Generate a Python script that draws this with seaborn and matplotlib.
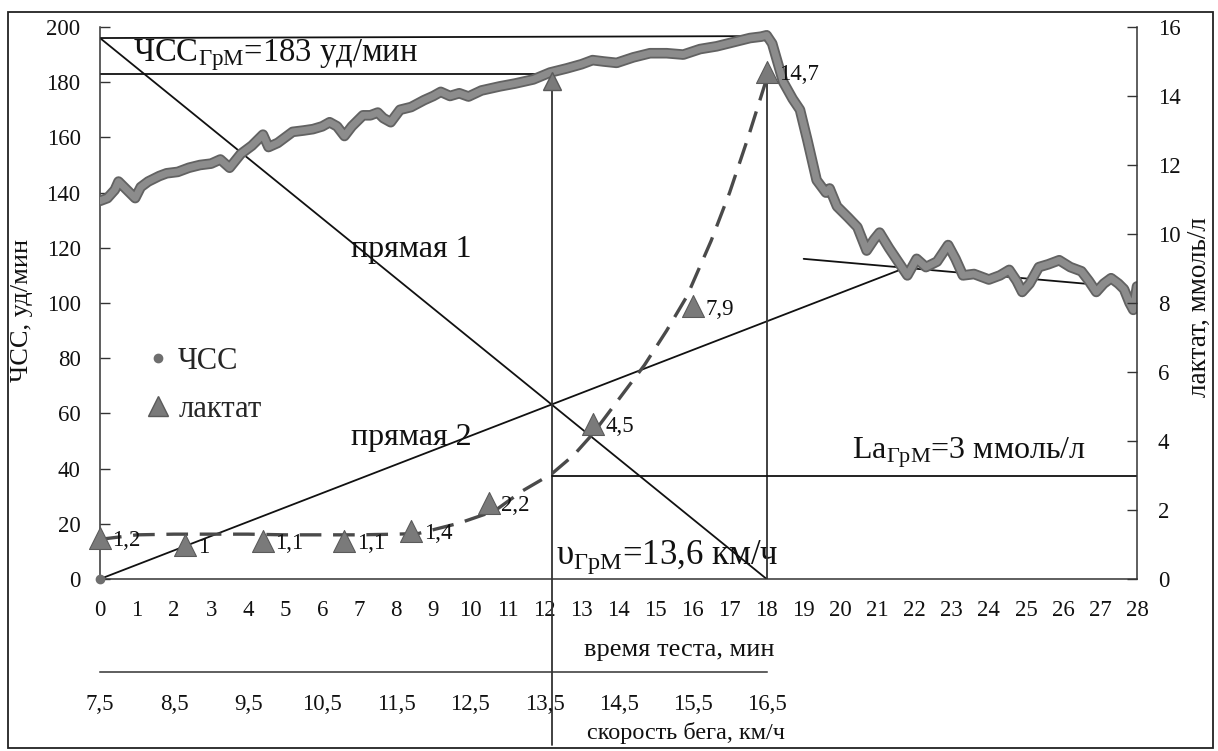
import matplotlib
matplotlib.use("Agg")
import matplotlib.pyplot as plt
import matplotlib.patheffects as pe
from matplotlib.lines import Line2D
from matplotlib.patches import Rectangle
import seaborn as sns
import pandas as pd

# heart rate during the test and recovery (min, beats/min)
hr_time = [0.0, 0.2, 0.4, 0.5, 0.65, 0.8, 0.95, 1.1, 1.3, 1.6, 1.8, 2.1, 2.4, 2.7,
           3.0, 3.25, 3.5, 3.8, 4.1, 4.4, 4.55, 4.8, 5.2, 5.5, 5.75, 6.0, 6.2, 6.4,
           6.6, 6.8, 7.1, 7.3, 7.5, 7.65, 7.85, 8.1, 8.4, 8.75, 9.0, 9.2, 9.45, 9.7,
           9.95, 10.3, 10.8, 11.2, 11.7, 12.15, 12.6, 13.0, 13.3, 13.6, 13.95, 14.4,
           14.85, 15.3, 15.75, 16.2, 16.65, 17.1, 17.55, 17.85, 18.0, 18.15, 18.45,
           18.7, 18.9, 19.1, 19.35, 19.6, 19.7, 19.9, 20.2, 20.45, 20.7, 20.9, 21.05,
           21.3, 21.55, 21.8, 22.05, 22.3, 22.6, 22.9, 23.1, 23.3, 23.6, 24.0, 24.3,
           24.55, 24.75, 24.9, 25.1, 25.35, 25.6, 25.9, 26.2, 26.5, 26.7, 26.9, 27.1,
           27.3, 27.5, 27.65, 27.8, 27.9, 28.0]
hr_value = [137, 138, 141, 144, 142, 140, 138, 142, 144, 146, 147, 147.5, 149, 150,
            150.5, 152, 149, 154, 157, 161, 156.5, 158, 162, 162.5, 163, 164, 165.5, 164,
            160.5, 164, 168, 168, 169, 167, 165.5, 170, 171, 173.5, 175, 176.5, 175, 176,
            174.8, 177, 178.5, 179.5, 181, 183.5, 185, 186.5, 188, 187.5, 187, 189,
            190.5, 190.5, 190, 192, 193, 194.5, 196, 196.5, 197, 194, 180,
            174, 170, 159, 144.5, 140, 141.5, 135, 131, 127.5, 119, 123, 125.5,
            120, 115, 110, 116, 113, 115, 121, 116, 110, 110.5, 108.5, 110,
            112, 108, 104, 107, 113, 114, 115.5, 113, 111.5, 108, 104, 107,
            109, 107, 105, 100, 97.5, 106]

# blood lactate samples (min, mmol/l)
la_time = [0.0, 2.3, 4.4, 6.6, 8.4, 10.5, 13.3, 16.0, 18.0]
la_value = [1.2, 1.0, 1.1, 1.1, 1.4, 2.2, 4.5, 7.9, 14.7]
la_labels = ["1,2", "1", "1,1", "1,1", "1,4", "2,2", "4,5", "7,9", "14,7"]

# lactate trend curve (min, mmol/l)
trend_time = [0, 1, 2, 3, 4, 5, 6, 7, 8, 8.6, 9.7, 10.65, 11.4, 12.2, 12.8, 13.3,
              14.0, 14.7, 15.3, 15.85, 16.5, 17.0, 17.5, 18.0]
trend_value = [1.15, 1.28, 1.3, 1.3, 1.3, 1.28, 1.28, 1.28, 1.3, 1.32, 1.62, 1.97,
               2.55, 3.05, 3.6, 4.2, 5.2, 6.2, 7.2, 8.2, 9.8, 11.2, 12.8, 14.5]

# axis ticks
time_ticks = list(range(0, 29))
hr_ticks = list(range(0, 201, 20))
la_ticks = list(range(0, 17, 2))
speed_ticks = [7.5, 8.5, 9.5, 10.5, 11.5, 12.5, 13.5, 14.5, 15.5, 16.5]
speed_labels = ["7,5", "8,5", "9,5", "10,5", "11,5", "12,5", "13,5", "14,5", "15,5", "16,5"]

# threshold construction
hr_peak = 197
hr_start_line1 = 196
hr_threshold = 183
t_threshold = 12.2
t_peak = 18.0
la_threshold = 3
line2_end = (21.6, 112)
recovery_line = ([19.0, 26.6], [116, 107])

sns.set_theme(style="white")
plt.rcParams["font.family"] = ["Liberation Serif", "DejaVu Serif"]
plt.rcParams["mathtext.fontset"] = "custom"
plt.rcParams["mathtext.rm"] = "Liberation Serif"
plt.rcParams["mathtext.it"] = "Liberation Serif:italic"
plt.rcParams["mathtext.bf"] = "Liberation Serif:bold"

W, H = 1218, 751
fig = plt.figure(figsize=(W / 100, H / 100), dpi=100)
fig.patch.set_facecolor("white")

ax = fig.add_axes([100 / W, (H - 579) / H, (1137 - 100) / W, (579 - 27) / H])
ax.set_xlim(0, 28)
ax.set_ylim(0, 200)
ax.patch.set_alpha(0)
ax2 = ax.twinx()
ax2.set_ylim(0, 16)

ink = "#111111"
lw_thin = 1.3

# construction lines
ax.plot([0, t_peak], [hr_start_line1, 0], color=ink, lw=lw_thin, zorder=2)
ax.plot([0, line2_end[0]], [0, line2_end[1]], color=ink, lw=lw_thin, zorder=2)
ax.plot([0, t_peak - 0.2], [hr_start_line1, hr_peak - 0.3], color=ink, lw=lw_thin, zorder=2)
ax.plot([0, t_threshold], [hr_threshold, hr_threshold], color=ink, lw=lw_thin, zorder=2)
ax.plot(recovery_line[0], recovery_line[1], color=ink, lw=lw_thin, zorder=2)
ax.plot([t_threshold, t_threshold], [-60, hr_threshold - 3], color="#333333",
        lw=lw_thin, zorder=2, clip_on=False)
ax2.plot([t_peak, t_peak], [0, la_value[-1]], color="#333333", lw=lw_thin, zorder=2)
ax2.plot([t_threshold, 28], [la_threshold, la_threshold], color=ink, lw=lw_thin, zorder=2)

# heart rate band
hr_df = pd.DataFrame({"t": hr_time, "hr": hr_value})
sns.lineplot(data=hr_df, x="t", y="hr", ax=ax, color="#8c8c8c", lw=5.0, zorder=4,
             path_effects=[pe.Stroke(linewidth=7.6, foreground="#626262"), pe.Normal()],
             legend=False)
ax.plot([0], [0], marker="o", ms=6, color="#6e6e6e", zorder=5, clip_on=False)
ax.plot([t_threshold], [hr_threshold - 2.5], marker="^", ms=13, color="#7a7a7a",
        mec="#5a5a5a", zorder=6)

# lactate trend and samples
tr_df = pd.DataFrame({"t": trend_time, "la": trend_value})
sns.lineplot(data=tr_df, x="t", y="la", ax=ax2, color="#4a4a4a", lw=2.4,
             dashes=False, legend=False, zorder=3).lines[-1].set_dashes([6.5, 3.5])
la_df = pd.DataFrame({"t": la_time, "la": la_value})
sns.scatterplot(data=la_df, x="t", y="la", ax=ax2, marker="^", s=250, color="#7a7a7a",
                edgecolor="#5a5a5a", linewidth=0.8, zorder=7, clip_on=False, legend=False)
for t, v, lab in zip(la_time, la_value, la_labels):
    ax2.annotate(lab, (t, v), xytext=(9, -2), textcoords="offset points",
                 ha="left", va="center", fontsize=16.5, color=ink, zorder=8)

# annotations
ax.text(0.9, 187.5, r"ЧСС$_{\mathrm{ГрМ}}$=183 уд/мин", fontsize=23.5, color=ink,
        ha="left", va="baseline", zorder=8)
ax.text(8.4, 116.5, "прямая 1", fontsize=23, color=ink, ha="center", va="baseline", zorder=8)
ax.text(8.4, 48.5, "прямая 2", fontsize=23, color=ink, ha="center", va="baseline", zorder=8)
ax.text(12.3, 5.5, r"υ$_{\mathrm{ГрМ}}$=13,6 км/ч", fontsize=25, color=ink,
        ha="left", va="baseline", zorder=8)
ax.text(20.3, 43.5, r"La$_{\mathrm{ГрМ}}$=3 ммоль/л", fontsize=23, color=ink,
        ha="left", va="baseline", zorder=8)

# axes styling
for a in (ax, ax2):
    a.spines["top"].set_visible(False)
    for s in ("left", "right", "bottom"):
        a.spines[s].set_color("#333333")
        a.spines[s].set_linewidth(1.1)
ax.spines["right"].set_visible(False)
ax2.spines["left"].set_visible(False)
ax2.spines["bottom"].set_visible(False)

ax.set_xticks(time_ticks)
ax.set_yticks(hr_ticks)
ax2.set_yticks(la_ticks)
ax.tick_params(axis="both", direction="in", length=7, width=1.0, color="#333333",
               labelsize=16.5, labelcolor=ink, pad=14)
ax.tick_params(axis="x", pad=15)
ax2.tick_params(axis="y", direction="in", length=7, width=1.0, color="#333333",
                labelsize=16.5, labelcolor=ink, pad=15)
ax.set_xlabel("")
ax.set_ylabel("")
ax2.set_ylabel("")

# axis titles
fig.text(22 / W, 1 - 310 / H, "ЧСС, уд/мин", fontsize=19, color=ink,
         rotation=90, ha="center", va="center")
fig.text(1199 / W, 1 - 307 / H, "лактат, ммоль/л", fontsize=19.5, color=ink,
         rotation=90, ha="center", va="center")
fig.text(679 / W, 1 - 650 / H, "время теста, мин", fontsize=19, color=ink,
         ha="center", va="center")
fig.text(686 / W, 1 - 733 / H, "скорость бега, км/ч", fontsize=17.5, color=ink,
         ha="center", va="center")

# legend
handles = [Line2D([], [], ls="none", marker="o", ms=6, color="#6e6e6e"),
           Line2D([], [], ls="none", marker="^", ms=14, color="#7a7a7a", mec="#5a5a5a")]
ax.legend(handles, ["ЧСС", "лактат"], loc="upper left", bbox_to_anchor=(0.015, 0.47),
          frameon=False, fontsize=22, handletextpad=0.15, labelspacing=0.62,
          handlelength=1.0)

# running speed axis
axs = fig.add_axes([100 / W, (H - 672) / H, (1137 - 100) / W, 0.0001])
axs.set_xlim(7.5, 21.5)
axs.patch.set_alpha(0)
for s in ("left", "right", "top"):
    axs.spines[s].set_visible(False)
axs.spines["bottom"].set_bounds(7.5, 16.5)
axs.spines["bottom"].set_color("#333333")
axs.spines["bottom"].set_linewidth(1.1)
axs.set_yticks([])
axs.set_xticks(speed_ticks)
axs.set_xticklabels(speed_labels)
axs.tick_params(axis="x", direction="in", length=7, width=1.0, color="#333333",
                labelsize=16.5, labelcolor=ink, pad=16)

# outer frame
fig.patches.append(Rectangle((8 / W, 3 / H), (1213 - 8) / W, (748 - 12) / H,
                             transform=fig.transFigure, fill=False,
                             edgecolor="#222222", lw=1.3))

fig.savefig("out.png", dpi=100, facecolor="white")
